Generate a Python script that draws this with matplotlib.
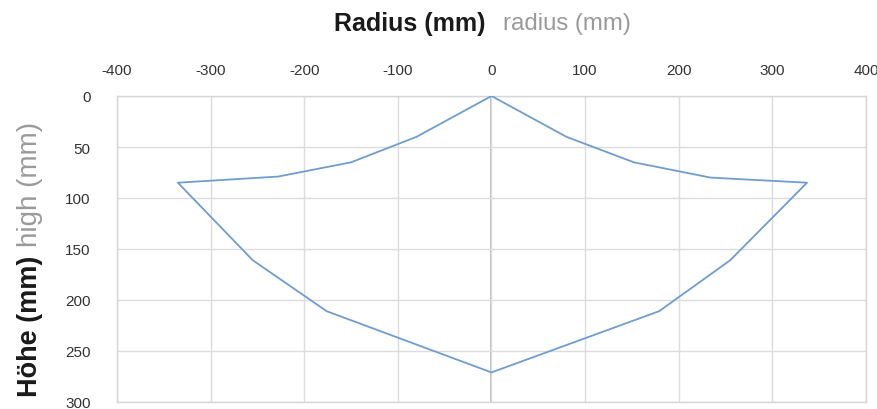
import numpy as np
import matplotlib
matplotlib.use("Agg")
import matplotlib.pyplot as plt

plt.rcParams['font.family'] = ['Liberation Sans', 'DejaVu Sans']
plt.rcParams['axes.unicode_minus'] = False

# outline of the detection zone (radius, height)
radius_mm = [0, 80, 152, 234, 337, 255, 179, 0, -176, -255, -335, -228, -150, -80, 0]
height_mm = [0, 40, 65, 80, 85, 161, 211, 271, 211, 161, 85, 79, 65, 40, 0]

x_ticks = [-400, -300, -200, -100, 0, 100, 200, 300, 400]
y_ticks = [0, 50, 100, 150, 200, 250, 300]

fig = plt.figure(figsize=(8.78, 4.10), dpi=100)
ax = fig.add_axes([117/878, 1 - 403/410, (866 - 117)/878, (403 - 97)/410])

ax.plot(radius_mm, height_mm, color='#6f9dd0', lw=1.3, zorder=3)

ax.set_xlim(-400, 400)
ax.set_ylim(300, 0)
ax.set_xticks(x_ticks)
ax.set_yticks(y_ticks)
ax.xaxis.tick_top()
ax.tick_params(axis='x', length=0, pad=14, labelsize=11, labelcolor='#333333')
ax.tick_params(axis='y', length=0, pad=19, labelsize=11, labelcolor='#333333')

ax.grid(True, color='#dcdcdc', lw=1.0, zorder=0)
ax.axvline(0, color='#b0b0b0', lw=1.2, zorder=1)
for side in ['top', 'left', 'bottom', 'right']:
    ax.spines[side].set_color('#d6d6d6')
    ax.spines[side].set_linewidth(1.0)

# axis titles: bold German + grey English
fig.text(486/878, 1 - 24/410, 'Radius (mm)', ha='right', va='center',
         fontsize=18, fontweight='bold', color='#1a1a1a')
fig.text(503/878, 1 - 24/410, 'radius (mm)', ha='left', va='center',
         fontsize=17.3, color='#9a9a9a')
fig.text(30/878, 1 - 256/410, 'Höhe (mm)', ha='center', va='top', rotation=90,
         fontsize=19.5, fontweight='bold', color='#1a1a1a')
fig.text(30/878, 1 - 247/410, 'high (mm)', ha='center', va='bottom', rotation=90,
         fontsize=20, color='#9a9a9a')

fig.savefig('out.png', dpi=100)
